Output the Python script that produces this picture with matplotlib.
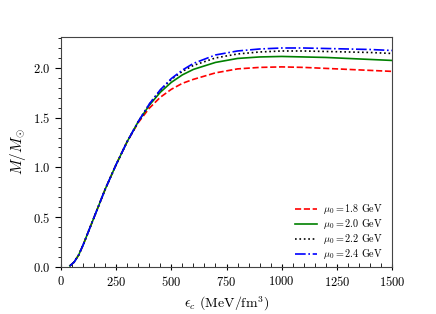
import matplotlib
matplotlib.use("Agg")
import matplotlib.pyplot as plt
from matplotlib.ticker import MultipleLocator

plt.rcParams['font.family'] = 'serif'
plt.rcParams['font.serif'] = ['cmr10']
plt.rcParams['mathtext.fontset'] = 'cm'
plt.rcParams['axes.formatter.use_mathtext'] = True

# central energy density (MeV/fm^3)
eps_c = [40, 60, 80, 100, 125, 150, 175, 200, 250, 300, 350, 400, 450, 500,
         550, 600, 700, 800, 900, 1000, 1100, 1200, 1300, 1400, 1500]

low = [0.01, 0.05, 0.12, 0.22, 0.36, 0.50, 0.64, 0.78, 1.03, 1.26]

m_18 = low + [1.45, 1.595, 1.705, 1.785, 1.845, 1.885, 1.95, 1.99, 2.005, 2.01, 2.005, 1.995, 1.985, 1.975, 1.965]
m_20 = low + [1.46, 1.625, 1.755, 1.855, 1.93, 1.985, 2.055, 2.095, 2.11, 2.115, 2.11, 2.105, 2.095, 2.085, 2.075]
m_22 = low + [1.46, 1.635, 1.775, 1.885, 1.965, 2.025, 2.10, 2.14, 2.16, 2.17, 2.17, 2.165, 2.16, 2.155, 2.145]
m_24 = low + [1.46, 1.637, 1.78, 1.893, 1.978, 2.045, 2.13, 2.17, 2.19, 2.20, 2.20, 2.195, 2.19, 2.185, 2.175]

labels = [r'$\mu_0 = 1.8$ GeV', r'$\mu_0 = 2.0$ GeV',
          r'$\mu_0 = 2.2$ GeV', r'$\mu_0 = 2.4$ GeV']

fig = plt.figure(figsize=(4.36, 3.14), dpi=100)
ax = fig.add_axes([0.140, 0.150, 0.759, 0.732])

ax.plot(eps_c, m_18, color='red', ls='--', lw=1.2, label=labels[0])
ax.plot(eps_c, m_20, color='green', ls='-', lw=1.2, label=labels[1])
ax.plot(eps_c, m_22, color='black', ls=':', lw=1.2, label=labels[2])
ax.plot(eps_c, m_24, color='blue', ls='-.', lw=1.2, label=labels[3])

ax.set_xlim(0, 1500)
ax.set_ylim(0, 2.31)
ax.xaxis.set_major_locator(MultipleLocator(250))
ax.xaxis.set_minor_locator(MultipleLocator(50))
ax.yaxis.set_major_locator(MultipleLocator(0.5))
ax.yaxis.set_minor_locator(MultipleLocator(0.1))
ax.tick_params(axis='x', which='major', direction='inout', length=5, labelsize=9)
ax.tick_params(axis='x', which='minor', direction='in', length=3)
ax.tick_params(axis='y', which='major', direction='out', length=4, labelsize=9)
ax.tick_params(axis='y', which='minor', direction='out', length=2)

for s in ax.spines.values():
    s.set_color('#444444')

ax.set_xlabel(r'$\epsilon_c$ (MeV/fm$^3$)', fontsize=10)
ax.set_ylabel(r'$M/M_{\odot}$', fontsize=11)

ax.legend(loc='lower right', frameon=False, fontsize=7.3, handlelength=2.2,
          handletextpad=0.6, labelspacing=0.1, bbox_to_anchor=(1.0, -0.015))

fig.savefig('out.png', dpi=100)
